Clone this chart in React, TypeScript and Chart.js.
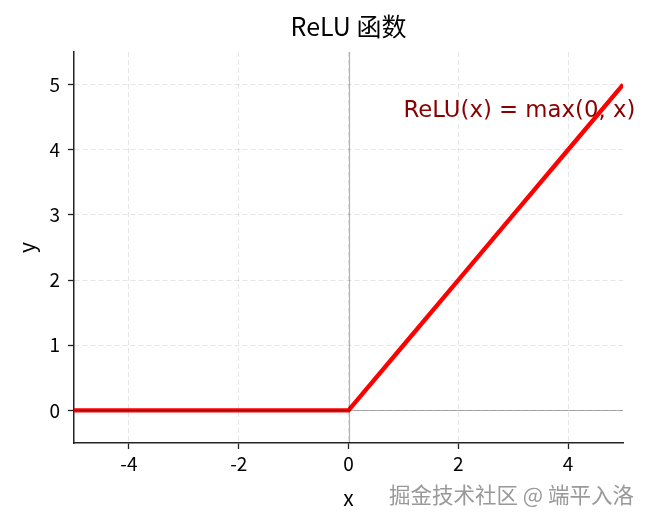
import { useRef, useEffect } from 'react';
import { Chart, registerables } from 'chart.js';

Chart.register(...registerables);

// ReLU sample points (x, y)
const xValues = [-5, -4, -3, -2, -1, 0, 1, 2, 3, 4, 5];
const yValues = [0, 0, 0, 0, 0, 0, 1, 2, 3, 4, 5];
const xTicks = [-4, -2, 0, 2, 4];
const yTicks = [0, 1, 2, 3, 4, 5];

const FONT = '"Noto Sans CJK SC", "DejaVu Sans", sans-serif';
const NOTE_FONT = '"DejaVu Sans", sans-serif';

const extras = {
  id: 'extras',
  beforeDatasetsDraw(chart: any) {
    const { ctx, scales } = chart;
    ctx.save();
    ctx.font = `22.8px ${NOTE_FONT}`;
    ctx.fillStyle = '#8b0000';
    ctx.textAlign = 'left';
    ctx.textBaseline = 'alphabetic';
    ctx.fillText('ReLU(x) = max(0, x)', scales.x.getPixelForValue(1), scales.y.getPixelForValue(4.5));
    ctx.restore();
  },
  afterDatasetsDraw(chart: any) {
    const { ctx, scales, chartArea } = chart;
    const x0 = Math.round(scales.x.getPixelForValue(0)) + 0.5;
    const y0 = Math.round(scales.y.getPixelForValue(0)) + 0.5;
    ctx.save();
    ctx.strokeStyle = 'rgba(0,0,0,0.3)';
    ctx.lineWidth = 1.2;
    ctx.beginPath();
    ctx.moveTo(chartArea.left, y0);
    ctx.lineTo(chartArea.right, y0);
    ctx.moveTo(x0, chartArea.top);
    ctx.lineTo(x0, chartArea.bottom);
    ctx.stroke();
    ctx.restore();
  },
  afterDraw(chart: any) {
    const { ctx, chartArea } = chart;
    const cx = (chartArea.left + chartArea.right) / 2;
    ctx.save();
    ctx.fillStyle = '#000';
    ctx.textAlign = 'center';
    ctx.textBaseline = 'alphabetic';
    ctx.font = `25px ${FONT}`;
    ctx.fillText('ReLU 函数', cx, 36);
    ctx.font = `21px ${FONT}`;
    ctx.fillText('x', cx, 506);
    ctx.translate(35, (chartArea.top + chartArea.bottom) / 2);
    ctx.rotate(-Math.PI / 2);
    ctx.fillText('y', 0, 0);
    ctx.restore();

    // watermark
    ctx.save();
    ctx.font = `21.5px ${FONT}`;
    ctx.textAlign = 'right';
    ctx.textBaseline = 'alphabetic';
    ctx.fillStyle = 'rgba(255,255,255,0.9)';
    ctx.fillText('掘金技术社区 @ 端平入洛', 635, 504);
    ctx.fillStyle = '#999999';
    ctx.fillText('掘金技术社区 @ 端平入洛', 634, 503);
    ctx.restore();
  },
};

const App = () => {
  const chartRef = useRef<HTMLCanvasElement | null>(null);
  const chartInstance = useRef<Chart | null>(null);

  useEffect(() => {
    if (!chartRef.current) return;
    if (chartInstance.current) chartInstance.current.destroy();

    const tickFont = { family: FONT, size: 19 };
    const grid = {
      color: 'rgba(0,0,0,0.1)',
      tickColor: '#222',
      tickLength: 6,
      tickWidth: 1.3,
      tickBorderDash: [],
    };

    chartInstance.current = new Chart(chartRef.current, {
      type: 'line',
      data: {
        datasets: [{
          data: xValues.map((x, i) => ({ x, y: yValues[i] })),
          borderColor: '#ff0000',
          borderWidth: 4.3,
          pointRadius: 0,
          tension: 0,
          fill: false,
        }],
      },
      options: {
        animation: false,
        responsive: false,
        maintainAspectRatio: false,
        layout: { padding: { top: 52, right: 28, left: 0, bottom: 0 } },
        plugins: {
          legend: { display: false },
          tooltip: { enabled: false },
          title: { display: false },
        },
        scales: {
          x: {
            type: 'linear',
            min: -5,
            max: 5,
            afterBuildTicks: (s: any) => { s.ticks = xTicks.map(v => ({ value: v })); },
            afterFit: (s: any) => { s.height = 82; },
            ticks: { color: '#000', font: tickFont, padding: 3, maxRotation: 0 },
            grid,
            border: { display: true, color: '#222', width: 1.5, dash: [5, 3] },
          },
          y: {
            type: 'linear',
            min: -0.5,
            max: 5.5,
            afterBuildTicks: (s: any) => { s.ticks = yTicks.map(v => ({ value: v })); },
            afterFit: (s: any) => { s.width = 74; },
            ticks: { color: '#000', font: tickFont, padding: 8 },
            grid,
            border: { display: true, color: '#222', width: 1.5, dash: [5, 3] },
          },
        },
      },
      plugins: [extras],
    } as any);

    return () => {
      if (chartInstance.current) {
        chartInstance.current.destroy();
        chartInstance.current = null;
      }
    };
  }, []);

  return (
    <div style={{ position: 'fixed', left: 0, top: 0, width: 651, height: 525, background: '#fff' }}>
      <canvas ref={chartRef} width={651} height={525} style={{ width: 651, height: 525 }} />
    </div>
  );
};

export default App;
